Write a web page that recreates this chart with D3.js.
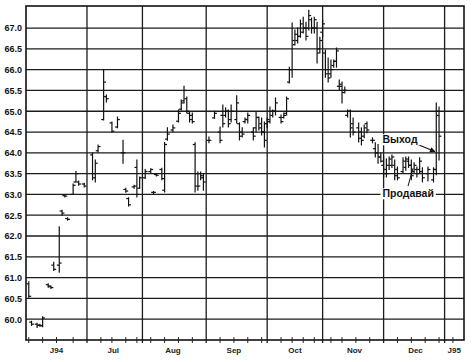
<!DOCTYPE html>
<meta charset="utf-8">
<script src="https://d3js.org/d3.v7.min.js"></script>
<style>
  body { margin: 0; background: #fff; }
  text { font-family: "Liberation Sans", Arial, sans-serif; }
</style>
<div id="chart"></div>
<script>

// trading-day index of each bar (0 = first session of June 1994)
var days = [1,2,4,5,6,8,9,10,12,13,14,15,17,18,19,21,
  24,25,26,28,29,31,33,35,36,37,39,40,41,
  43,45,46,47,49,50,51,53,55,56,57,58,59,60,61,62,63,64,
  66,68,70,71,72,73,74,76,77,78,79,80,82,83,84,85,86,
  87,88,89,90,92,93,94,95,96,97,98,99,100,101,102,103,104,105,106,
  107,108,109,110,111,112,113,114,115,116,117,118,120,121,122,123,125,
  126,127,128,129,130,131,132,133,134,136,137,138,139,140,141,142,143,145,147,148,149];

var opens = [60.85,59.93,59.88,59.86,59.84,60.83,60.78,61.3,61.3,62.6,62.97,62.42,63.0,63.3,63.3,63.25,
  63.95,63.4,64.05,64.8,65.35,64.72,64.62,64.0,63.12,62.9,63.18,63.65,63.15,
  63.4,63.55,63.05,63.48,63.6,63.1,64.33,64.55,64.76,65.05,65.25,65.3,64.95,64.9,64.2,63.5,63.5,63.45,
  64.3,64.84,64.5,64.9,64.9,65.0,64.8,64.8,64.7,64.5,64.75,64.8,64.5,64.6,64.85,64.7,64.5,
  64.7,64.75,64.9,65.0,64.85,64.85,64.95,65.7,66.0,66.6,66.7,66.8,66.9,67.0,67.0,67.2,67.0,67.0,66.5,
  66.9,66.4,66.0,65.9,66.1,66.2,65.6,65.6,65.5,64.9,65.0,64.7,64.6,64.5,64.4,64.7,64.3,
  64.1,64.0,63.9,63.7,63.6,63.7,63.7,63.7,63.6,63.55,63.65,63.8,63.7,63.55,63.6,63.6,63.55,63.5,63.35,63.6,64.9];

var highs = [60.9,59.95,59.9,59.88,60.06,60.85,60.8,61.37,62.22,62.62,62.98,62.44,63.25,63.55,63.32,63.27,
  64.0,63.83,64.19,65.99,65.39,64.74,64.86,64.3,63.15,62.92,63.22,63.83,63.42,
  63.6,63.62,63.07,63.5,63.63,64.25,64.6,64.67,65.03,65.27,65.6,65.34,64.98,64.96,64.24,63.54,63.54,63.5,
  64.38,65.0,64.62,65.15,65.08,65.03,65.15,65.37,64.72,64.6,64.84,64.96,64.6,64.98,64.86,64.84,64.74,
  64.84,65.1,65.03,65.32,64.91,64.96,65.34,66.06,67.12,66.95,67.0,67.19,67.26,67.14,67.43,67.24,67.26,67.14,66.78,
  67.19,66.47,66.28,66.23,66.23,66.52,65.75,65.7,65.58,65.03,65.03,64.84,64.72,64.6,64.67,64.74,64.36,
  64.24,64.2,64.0,63.9,63.85,63.9,63.95,63.83,63.66,63.88,63.9,63.9,63.83,63.76,63.66,63.88,63.64,63.66,63.64,65.2,65.1];

var lows = [60.53,59.85,59.8,59.83,59.82,60.77,60.74,61.17,61.13,62.5,62.94,62.38,63.0,63.3,63.22,63.18,
  63.35,63.3,64.02,64.79,65.22,64.5,64.6,63.75,63.05,62.72,63.15,62.94,63.15,
  63.38,63.52,63.02,63.44,63.35,63.06,64.3,64.5,64.74,65.03,65.2,64.96,64.74,64.72,63.06,63.1,63.35,63.1,
  64.24,64.83,64.24,64.62,64.86,64.62,64.74,64.72,64.31,64.38,64.72,64.72,64.31,64.5,64.55,64.43,64.14,
  64.6,64.72,64.86,64.91,64.72,64.84,64.91,65.68,65.82,66.59,66.64,66.78,66.88,66.71,66.95,66.88,66.88,66.16,66.4,
  66.78,65.82,65.7,65.82,66.06,66.06,65.51,65.2,65.44,64.86,64.38,64.43,64.26,64.19,64.36,64.48,64.24,
  63.9,63.75,63.78,63.42,63.42,63.6,63.65,63.35,63.35,63.5,63.58,63.65,63.35,63.52,63.42,63.52,63.3,63.32,63.3,63.47,63.83];

var closes = [60.55,59.88,59.85,59.85,60.03,60.8,60.76,61.2,61.35,62.55,62.96,62.4,63.22,63.5,63.25,63.2,
  63.5,63.75,64.15,65.7,65.3,64.52,64.8,64.0,63.08,62.75,63.2,63.0,63.4,
  63.55,63.6,63.05,63.46,63.38,64.2,64.45,64.6,64.95,65.2,65.5,65.0,64.8,64.75,63.2,63.2,63.4,63.3,
  64.3,64.95,64.3,64.7,65.0,64.7,65.0,65.2,64.4,64.45,64.8,64.9,64.4,64.85,64.6,64.5,64.3,
  64.8,65.0,65.0,65.2,64.75,64.9,65.3,66.0,66.7,66.85,66.8,67.1,67.0,66.8,67.3,67.0,67.2,66.4,66.7,
  67.1,65.9,65.8,66.0,66.2,66.45,65.65,65.45,65.5,65.0,64.6,64.5,64.35,64.3,64.6,64.55,64.3,
  64.0,63.9,63.8,63.5,63.5,63.85,63.9,63.45,63.4,63.8,63.85,63.7,63.45,63.7,63.5,63.8,63.4,63.6,63.6,65.0,64.4];

// axis
var monthStarts = [0, 22, 42, 65, 87, 107, 129, 151];
var monthLabels = ["J94", "Jul", "Aug", "Sep", "Oct", "Nov", "Dec", "J95"];
var monthLabelDays = [11, 31.5, 53, 75, 97, 118.5, 140.5, 154.5];
var weekTicks = [1,6,11,17,27,31,36,40,45,50,55,60,70,75,80,85,92,96,100,104,110,114,119,124,134,139,144,149,154];
var priceTicks = [60.0,60.5,61.0,61.5,62.0,62.5,63.0,63.5,64.0,64.5,65.0,65.5,66.0,66.5,67.0];

// annotations (text start day, baseline price)
var noteText = ["Выход", "Продавай"];
var noteDay = [128.6, 128.6];
var notePrice = [64.23, 62.93];

var width = 475, height = 362;
var plotL = 26, plotR = 464, plotT = 6, plotB = 340;

var svg = d3.select("#chart")
  .append("svg")
    .attr("width", width)
    .attr("height", height);

var x = d3.scaleLinear().domain([0, 158]).range([plotL, plotR]);
var y = d3.scaleLinear().domain([59.5, 67.53]).range([plotB, plotT]);

var gridColor = "#1c1c1c";

// horizontal grid
svg.selectAll("hgrid")
  .data(priceTicks)
  .enter()
  .append("line")
    .attr("x1", plotL).attr("x2", plotR)
    .attr("y1", function(d) { return y(d) }).attr("y2", function(d) { return y(d) })
    .attr("stroke", gridColor)
    .attr("stroke-width", 1.3)

// vertical grid at month starts
svg.selectAll("vgrid")
  .data(monthStarts.slice(1))
  .enter()
  .append("line")
    .attr("x1", function(d) { return x(d) }).attr("x2", function(d) { return x(d) })
    .attr("y1", plotT).attr("y2", plotB + 3)
    .attr("stroke", gridColor)
    .attr("stroke-width", 1.3)

// frame
svg.append("rect")
  .attr("x", plotL).attr("y", plotT)
  .attr("width", plotR - plotL).attr("height", plotB - plotT)
  .attr("fill", "none")
  .attr("stroke", "#111")
  .attr("stroke-width", 1.6)

// weekly ticks on the bottom edge
svg.selectAll("wtick")
  .data(weekTicks)
  .enter()
  .append("line")
    .attr("x1", function(d) { return x(d) }).attr("x2", function(d) { return x(d) })
    .attr("y1", plotB - 3).attr("y2", plotB + 3)
    .attr("stroke", "#222")
    .attr("stroke-width", 1)

// y labels
svg.selectAll("ylab")
  .data(priceTicks)
  .enter()
  .append("text")
    .attr("x", 22)
    .attr("y", function(d) { return y(d) + 3.3 })
    .attr("text-anchor", "end")
    .attr("font-size", 9)
    .attr("font-weight", "bold")
    .attr("fill", "#111")
    .text(d3.format(".1f"))

// x labels
svg.selectAll("xlab")
  .data(monthLabels)
  .enter()
  .append("text")
    .attr("x", function(d, i) { return x(monthLabelDays[i]) })
    .attr("y", 353)
    .attr("text-anchor", "middle")
    .attr("font-size", 8)
    .attr("font-weight", "bold")
    .attr("fill", "#222")
    .text(function(d) { return d })

// OHLC bars
var bars = days.map(function(d, i) {
  return {day: d, o: opens[i], h: highs[i], l: lows[i], c: closes[i]};
});

var g = svg.append("g").attr("stroke", "#111").attr("stroke-width", 1.2);
g.selectAll("hl").data(bars).enter().append("line")
  .attr("x1", function(d) { return x(d.day) }).attr("x2", function(d) { return x(d.day) })
  .attr("y1", function(d) { return y(d.h) - 0.5 }).attr("y2", function(d) { return y(d.l) + 0.5 })
g.selectAll("op").data(bars).enter().append("line")
  .attr("x1", function(d) { return x(d.day) - 2.4 }).attr("x2", function(d) { return x(d.day) })
  .attr("y1", function(d) { return y(d.o) }).attr("y2", function(d) { return y(d.o) })
g.selectAll("cl").data(bars).enter().append("line")
  .attr("x1", function(d) { return x(d.day) }).attr("x2", function(d) { return x(d.day) + 2.4 })
  .attr("y1", function(d) { return y(d.c) }).attr("y2", function(d) { return y(d.c) })

// annotations
svg.append("defs").append("marker")
  .attr("id", "head")
  .attr("viewBox", "0 0 10 10")
  .attr("refX", 9).attr("refY", 5)
  .attr("markerWidth", 6).attr("markerHeight", 5)
  .attr("orient", "auto")
  .append("path").attr("d", "M0,0L10,5L0,10z").attr("fill", "#111")

// arrow from "Выход" to the exit bar
svg.append("line")
  .attr("x1", x(141.3)).attr("y1", y(64.2))
  .attr("x2", x(147.5)).attr("y2", y(64.03))
  .attr("stroke", "#111").attr("stroke-width", 1.1)
  .attr("marker-end", "url(#head)")

// pointer from "Продавай" to the sell bar
svg.append("line")
  .attr("x1", x(137.8)).attr("y1", y(63.2))
  .attr("x2", x(139.6)).attr("y2", y(63.63))
  .attr("stroke", "#111").attr("stroke-width", 1)

noteText.forEach(function(t, i) {
  var txt = svg.append("text")
    .attr("x", x(noteDay[i]))
    .attr("y", y(notePrice[i]))
    .attr("font-size", 10.5)
    .attr("font-weight", "bold")
    .attr("fill", "#111")
    .text(t)
  var b = txt.node().getBBox();
  svg.insert("rect", function() { return txt.node() })
    .attr("x", b.x - 2).attr("y", b.y + 1)
    .attr("width", b.width + 4).attr("height", b.height - 1)
    .attr("fill", "#fff")
})

</script>
